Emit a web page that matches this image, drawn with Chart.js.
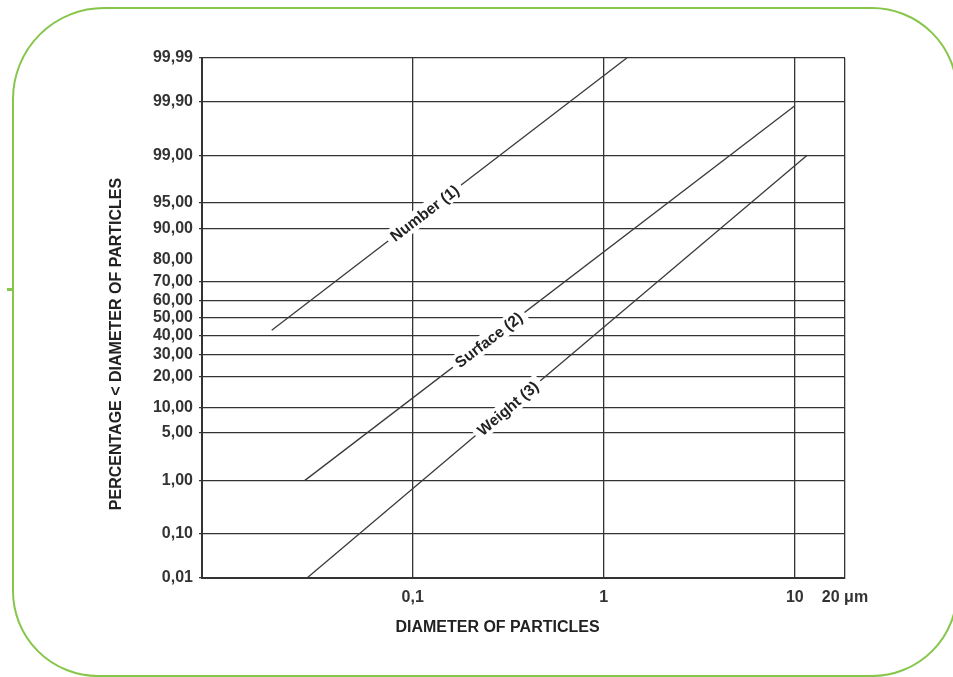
<!DOCTYPE html>
<html>
<head>
<meta charset="utf-8">
<script src="https://cdn.jsdelivr.net/npm/chart.js@4.4.1/dist/chart.umd.min.js"></script>
<style>
    html, body { margin: 0; padding: 0; background: #fff; }
    #wrap { position: relative; width: 953px; height: 677px; overflow: hidden; }
    #frame {
        position: absolute; left: 12px; top: 7px; width: 946px; height: 670px;
        box-sizing: border-box; border: 2.5px solid #86c64a;
        border-radius: 92px 86px 86px 86px;
    }
    #dash { position: absolute; left: 7px; top: 288px; width: 6px; height: 2.5px; background: #86c64a; }
    #c { position: absolute; left: 0; top: 0; }
</style>
</head>
<body>
<div id="wrap">
    <div id="frame"></div>
    <div id="dash"></div>
    <canvas id="c" width="953" height="677"></canvas>
</div>
<script>
// probability axis (percent) and log diameter axis
const yTickValues = [0.01, 0.1, 1, 5, 10, 20, 30, 40, 50, 60, 70, 80, 90, 95, 99, 99.9, 99.99];
const yTickLabels = ['0,01', '0,10', '1,00', '5,00', '10,00', '20,00', '30,00', '40,00', '50,00',
    '60,00', '70,00', '80,00', '90,00', '95,00', '99,00', '99,90', '99,99'];
const yNoGridLine = ['80,00'];
const xMin = 0.0079;
const xMax = 18.3;
const xTickValues = [0.1, 1, 10, xMax];
const xTickLabels = ['0,1', '1', '10', '20 \u03bcm'];
const xTitle = 'DIAMETER OF PARTICLES';
const yTitle = 'PERCENTAGE < DIAMETER OF PARTICLES';

// series: diameter (µm) and cumulative percentage at the two ends of each line
const seriesNames = ['Number (1)', 'Surface (2)', 'Weight (3)'];
const numberX = [0.0183, 1.32];
const numberY = [43, 99.99];
const surfaceX = [0.0272, 10];
const surfaceY = [1, 99.88];
const weightX = [0.028, 11.6];
const weightY = [0.01, 99];
const labelAtX = [0.1155, 0.25, 0.315];

const FONT_FAMILY = '"Liberation Sans", Arial, Helvetica, sans-serif';
const INK = '#333';

// inverse normal cdf (Acklam), pct in percent
function probit(pct) {
    const p = pct / 100;
    const a = [-3.969683028665376e+01, 2.209460984245205e+02, -2.759285104469687e+02, 1.383577518672690e+02, -3.066479806614716e+01, 2.506628277459239e+00];
    const b = [-5.447609879822406e+01, 1.615858368580409e+02, -1.556989798598866e+02, 6.680131188771972e+01, -1.328068155288572e+01];
    const c = [-7.784894002430293e-03, -3.223964580411365e-01, -2.400758277161838e+00, -2.549732539343734e+00, 4.374664141464968e+00, 2.938163982698783e+00];
    const d = [7.784695709041462e-03, 3.224671290700398e-01, 2.445134137142996e+00, 3.754408661907416e+00];
    const pl = 0.02425;
    let q, r;
    if (p < pl) {
        q = Math.sqrt(-2 * Math.log(p));
        return (((((c[0] * q + c[1]) * q + c[2]) * q + c[3]) * q + c[4]) * q + c[5]) /
            ((((d[0] * q + d[1]) * q + d[2]) * q + d[3]) * q + 1);
    }
    if (p > 1 - pl) {
        q = Math.sqrt(-2 * Math.log(1 - p));
        return -(((((c[0] * q + c[1]) * q + c[2]) * q + c[3]) * q + c[4]) * q + c[5]) /
            ((((d[0] * q + d[1]) * q + d[2]) * q + d[3]) * q + 1);
    }
    q = p - 0.5;
    r = q * q;
    return (((((a[0] * r + a[1]) * r + a[2]) * r + a[3]) * r + a[4]) * r + a[5]) * q /
        (((((b[0] * r + b[1]) * r + b[2]) * r + b[3]) * r + b[4]) * r + 1);
}

function toPoints(xs, ys) {
    return xs.map((x, i) => ({ x: x, y: probit(ys[i]) }));
}

// labels sitting on the lines, with a white gap behind them
const lineLabels = {
    id: 'lineLabels',
    afterDatasetsDraw(chart) {
        const { ctx, scales: { x, y } } = chart;
        chart.data.datasets.forEach((ds, i) => {
            const p0 = ds.data[0], p1 = ds.data[1];
            const x0 = x.getPixelForValue(p0.x), y0 = y.getPixelForValue(p0.y);
            const x1 = x.getPixelForValue(p1.x), y1 = y.getPixelForValue(p1.y);
            const lx = x.getPixelForValue(labelAtX[i]);
            const ly = y0 + (lx - x0) / (x1 - x0) * (y1 - y0);
            ctx.save();
            ctx.translate(lx, ly);
            ctx.rotate(Math.atan2(y1 - y0, x1 - x0));
            ctx.font = 'bold 15.5px ' + FONT_FAMILY;
            const w = ctx.measureText(ds.label).width;
            ctx.fillStyle = '#fff';
            ctx.fillRect(-w / 2 - 5, -9, w + 10, 18);
            ctx.fillStyle = '#222';
            ctx.textAlign = 'center';
            ctx.textBaseline = 'middle';
            ctx.fillText(ds.label, 0, 1);
            ctx.restore();
        });
    }
};

// axis titles, a little off-centre like the original print
const axisTitles = {
    id: 'axisTitles',
    afterDraw(chart) {
        const { ctx, chartArea: area } = chart;
        ctx.save();
        ctx.font = 'bold 16px ' + FONT_FAMILY;
        ctx.fillStyle = '#222';
        ctx.textAlign = 'center';
        ctx.textBaseline = 'middle';
        ctx.fillText(xTitle, (area.left + area.right) / 2 - 26, area.bottom + 50);
        ctx.translate(117, (area.top + area.bottom) / 2 + 26);
        ctx.rotate(-Math.PI / 2);
        ctx.fillText(yTitle, 0, 0);
        ctx.restore();
    }
};

const lineStyle = { showLine: true, pointRadius: 0, borderColor: '#3a3a3a', borderWidth: 1.3, fill: false };
const tickFont = { family: FONT_FAMILY, size: 16, weight: 'bold' };

const config = {
    type: 'scatter',
    data: {
        datasets: [
            { label: seriesNames[0], data: toPoints(numberX, numberY), ...lineStyle },
            { label: seriesNames[1], data: toPoints(surfaceX, surfaceY), ...lineStyle },
            { label: seriesNames[2], data: toPoints(weightX, weightY), ...lineStyle },
        ],
    },
    options: {
        responsive: false,
        animation: false,
        layout: { padding: { left: 105, top: 58, right: 108, bottom: 37 } },
        plugins: {
            legend: { display: false },
            tooltip: { enabled: false },
        },
        scales: {
            x: {
                type: 'logarithmic',
                min: xMin,
                max: xMax,
                afterBuildTicks: (scale) => {
                    scale.ticks = xTickValues.map(v => ({ value: v }));
                },
                afterFit: (scale) => { scale.height = 62; },
                ticks: {
                    autoSkip: false,
                    maxRotation: 0,
                    padding: 10,
                    color: INK,
                    font: tickFont,
                    callback: (v, i) => xTickLabels[i],
                },
                grid: { color: INK, lineWidth: 1.3, drawTicks: false },
                border: { color: INK, width: 2 },
            },
            y: {
                type: 'linear',
                min: probit(yTickValues[0]),
                max: probit(yTickValues[yTickValues.length - 1]),
                afterBuildTicks: (scale) => {
                    scale.ticks = yTickValues.map(v => ({ value: probit(v) }));
                },
                afterFit: (scale) => { scale.width = 97; },
                ticks: {
                    autoSkip: false,
                    padding: 6,
                    color: INK,
                    font: tickFont,
                    callback: (v, i) => yTickLabels[i],
                },
                grid: {
                    lineWidth: 1.3,
                    tickLength: 3,
                    color: (ctx) => yNoGridLine.includes(yTickLabels[ctx.index]) ? 'transparent' : INK,
                },
                border: { color: INK, width: 2 },
            },
        },
    },
    plugins: [lineLabels, axisTitles],
};

new Chart(document.getElementById('c'), config);
</script>
</body>
</html>
